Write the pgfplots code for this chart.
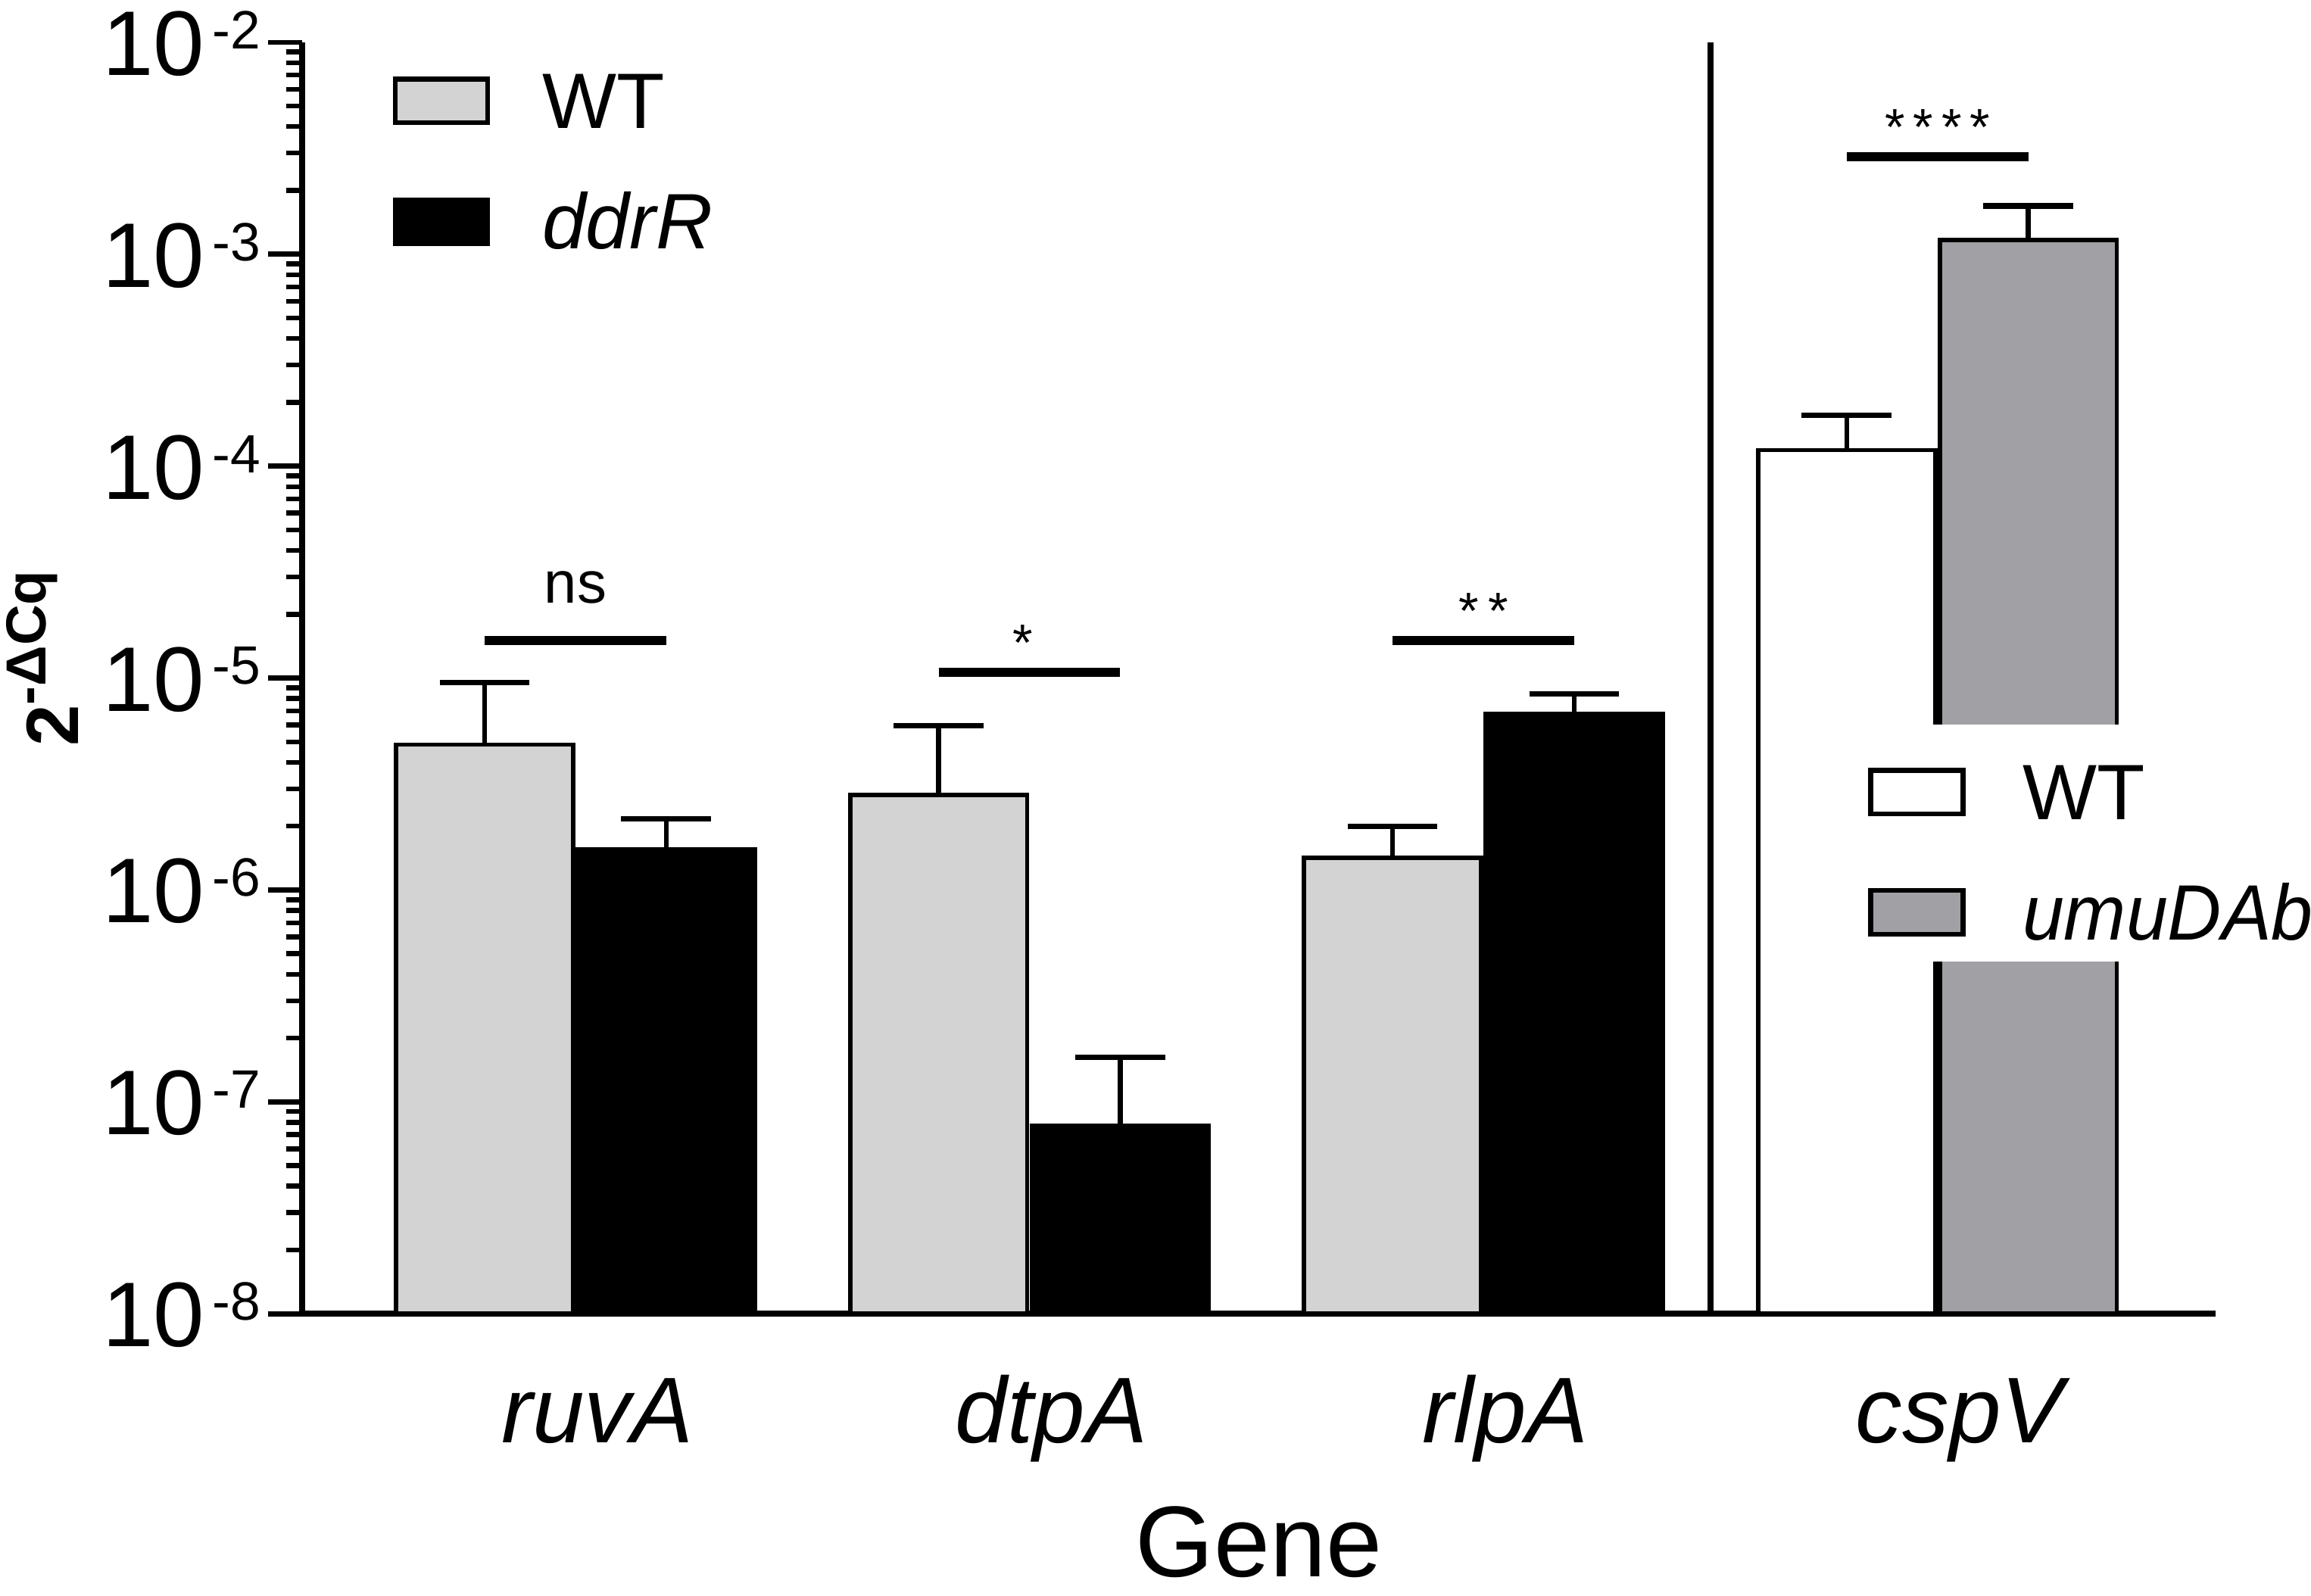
\documentclass[border=0pt]{standalone}
\usepackage{fontspec}
\setmainfont{Liberation Sans}
\usepackage{pgfplots}
\usepackage{pgfplotstable}
\pgfplotsset{compat=1.18}

\definecolor{wtgrey}{HTML}{D3D3D3}
\definecolor{umugrey}{HTML}{A1A1A5}

\newcommand{\tl}[1]{\fontsize{18.7pt}{18.7pt}\selectfont 10\kern1.7pt\raisebox{5.4pt}{\fontsize{11pt}{11pt}\selectfont -#1}}

\pgfplotsset{
  mylegbox/.style={legend image code/.code={\draw[##1, draw=black, line width=1pt] (0.5pt,1.1pt) rectangle (19.3pt,10pt);}},
  mylegboxtop/.style={legend image code/.code={\draw[##1, draw=black, line width=1pt] (0.5pt,1.1pt) rectangle (19.3pt,10pt); \path (0pt,16pt);}},
}

% x = bar position, y = mean 2^-dCq, t = top of error bar
\pgfplotstableread{
x y t
0.8 4.85e-6 9.5e-6
1.8 2.80e-6 5.96e-6
2.8 1.42e-6 2.0e-6
}\wtdata
\pgfplotstableread{
x y t
1.2 1.55e-6 2.16e-6
2.2 7.7e-8 1.62e-7
3.2 6.8e-6 8.4e-6
}\ddrdata
\pgfplotstableread{
x y t
3.8 1.19e-4 1.74e-4
}\wtcsp
\pgfplotstableread{
x y t
4.2 1.17e-3 1.69e-3
}\umucsp

\begin{document}
\begin{tikzpicture}
\begin{axis}[name=ax,
  scale only axis, width=389.6pt, height=258.9pt,
  xmin=0.398, xmax=4.613, ymin=1e-8, ymax=1e-2,
  ymode=log, log origin=infty,
  axis x line*=bottom, axis y line*=left,
  axis line style={-, line width=1.2pt, black},
  ytick pos=left,
  ytick={1e-8,1e-7,1e-6,1e-5,1e-4,1e-3,1e-2},
  yticklabels={\tl{8},\tl{7},\tl{6},\tl{5},\tl{4},\tl{3},\tl{2}},
  minor ytick={2e-8,3e-8,4e-8,5e-8,6e-8,7e-8,8e-8,9e-8,
               2e-7,3e-7,4e-7,5e-7,6e-7,7e-7,8e-7,9e-7,
               2e-6,3e-6,4e-6,5e-6,6e-6,7e-6,8e-6,9e-6,
               2e-5,3e-5,4e-5,5e-5,6e-5,7e-5,8e-5,9e-5,
               2e-4,3e-4,4e-4,5e-4,6e-4,7e-4,8e-4,9e-4,
               2e-3,3e-3,4e-3,5e-3,6e-3,7e-3,8e-3,9e-3},
  tick align=outside,
  major tick length=6.9pt, minor tick length=3.3pt,
  tick style={line width=1pt, black},
  xtick={1,2,3,4},
  xticklabels={ruvA,dtpA,rlpA,cspV},
  xtick style={draw=none},
  yticklabel style={anchor=base east, yshift=-6.7pt, inner sep=0pt, xshift=-1.3pt},
  xticklabel style={font=\fontsize{19pt}{19pt}\selectfont\itshape, anchor=base, inner sep=0pt, yshift=-19.4pt, xshift=4.5pt},
  xlabel={Gene},
  xlabel style={font=\fontsize{20.5pt}{20.5pt}\selectfont, at={(axis description cs:0.5,0)}, anchor=base, inner sep=0pt, yshift=-53.5pt},
  ylabel={\fontsize{15.1pt}{15.1pt}\selectfont\bfseries 2\raisebox{6.7pt}{\fontsize{11.5pt}{11.5pt}\selectfont -ΔCq}},
  ylabel style={at={(axis description cs:-0.1169,0.5154)}, anchor=base, inner sep=0pt},
  legend cell align=left,
  legend style={draw=none, fill=none, inner sep=0pt,
    at={(axis description cs:0.04696,0.9757)}, anchor=north west,
    font=\fontsize{16pt}{16pt}\selectfont,
    row sep={24.6pt,between origins}, column sep=10.6pt,
    nodes={inner sep=0pt, anchor=base west}},
]
\addplot[ybar, bar width=0.39, draw=black, line width=0.9pt, fill=wtgrey, bar shift=0pt, mylegbox]
  table[x=x, y=y] {\wtdata};
\addlegendentry{WT}
\addplot[ybar, bar width=0.39, draw=black, line width=0.9pt, fill=black, bar shift=0pt, mylegbox]
  table[x=x, y=y] {\ddrdata};
\addlegendentry{\textit{ddrR}}

% error bars (upper only): stems and caps
\addplot[black, line width=1pt, forget plot] coordinates {(0.8,4.85e-6) (0.8,9.5e-6)};
\addplot[black, line width=1.1pt, forget plot] coordinates {(0.701,9.5e-6) (0.899,9.5e-6)};
\addplot[black, line width=1pt, forget plot] coordinates {(1.8,2.80e-6) (1.8,5.96e-6)};
\addplot[black, line width=1.1pt, forget plot] coordinates {(1.701,5.96e-6) (1.899,5.96e-6)};
\addplot[black, line width=1pt, forget plot] coordinates {(2.8,1.42e-6) (2.8,2.0e-6)};
\addplot[black, line width=1.1pt, forget plot] coordinates {(2.701,2.0e-6) (2.899,2.0e-6)};
\addplot[black, line width=1pt, forget plot] coordinates {(1.2,1.55e-6) (1.2,2.16e-6)};
\addplot[black, line width=1.1pt, forget plot] coordinates {(1.101,2.16e-6) (1.299,2.16e-6)};
\addplot[black, line width=1pt, forget plot] coordinates {(2.2,7.7e-8) (2.2,1.62e-7)};
\addplot[black, line width=1.1pt, forget plot] coordinates {(2.101,1.62e-7) (2.299,1.62e-7)};
\addplot[black, line width=1pt, forget plot] coordinates {(3.2,6.8e-6) (3.2,8.4e-6)};
\addplot[black, line width=1.1pt, forget plot] coordinates {(3.101,8.4e-6) (3.299,8.4e-6)};

% significance bars
\addplot[black, line width=1.9pt, forget plot] coordinates {(0.8,1.5e-5) (1.2,1.5e-5)};
\addplot[black, line width=1.9pt, forget plot] coordinates {(1.8,1.065e-5) (2.2,1.065e-5)};
\addplot[black, line width=1.9pt, forget plot] coordinates {(2.8,1.5e-5) (3.2,1.5e-5)};
% separator
\addplot[black, line width=1.2pt, forget plot] coordinates {(3.5,1e-8) (3.5,1e-2)};

\node[font=\fontsize{12pt}{12pt}\selectfont, anchor=base, yshift=7.7pt, inner sep=0pt] at (axis cs:1,1.5e-5) {ns};
\node[font=\fontsize{10.5pt}{10.5pt}\selectfont, anchor=base, yshift=2.4pt, inner sep=0pt] at (axis cs:1.985,1.065e-5) {*};
\node[font=\fontsize{10.5pt}{10.5pt}\selectfont, anchor=base, yshift=2.4pt, inner sep=0pt] at (axis cs:3,1.5e-5) {*\kern1.9pt*};
\end{axis}

\begin{axis}[at={(ax.south west)}, anchor=south west, hide axis,
  scale only axis, width=389.6pt, height=258.9pt,
  xmin=0.398, xmax=4.613, ymin=1e-8, ymax=1e-2,
  ymode=log, log origin=infty,
  legend cell align=left,
  legend style={draw=none, fill=white, inner xsep=12pt, inner ysep=2.9pt,
    at={(axis description cs:0.786,0.4644)}, anchor=north west,
    font=\fontsize{16pt}{16pt}\selectfont,
    row sep={24.5pt,between origins}, column sep=11.6pt,
    nodes={inner sep=0pt, anchor=base west}},
]
\addplot[ybar, bar width=0.39, draw=black, line width=0.9pt, fill=white, bar shift=0pt, mylegboxtop]
  table[x=x, y=y] {\wtcsp};
\addlegendentry{WT}
\addplot[ybar, bar width=0.39, draw=black, line width=0.9pt, fill=umugrey, bar shift=0pt, mylegbox]
  table[x=x, y=y] {\umucsp};
\addlegendentry{\scalebox{0.95}[1]{\textit{umuDAb}}}
\addplot[black, line width=1pt, forget plot] coordinates {(3.8,1.19e-4) (3.8,1.74e-4)};
\addplot[black, line width=1.1pt, forget plot] coordinates {(3.701,1.74e-4) (3.899,1.74e-4)};
\addplot[black, line width=1pt, forget plot] coordinates {(4.2,1.17e-3) (4.2,1.69e-3)};
\addplot[black, line width=1.1pt, forget plot] coordinates {(4.101,1.69e-3) (4.299,1.69e-3)};
\addplot[black, line width=1.9pt, forget plot] coordinates {(3.8,2.88e-3) (4.2,2.88e-3)};
\node[font=\fontsize{10.5pt}{10.5pt}\selectfont, anchor=base, yshift=2.4pt, inner sep=0pt] at (axis cs:4,2.88e-3) {*\kern1.7pt*\kern1.7pt*\kern1.7pt*};
\end{axis}

\pgfresetboundingbox
\path[use as bounding box] ([shift={(-61.5pt,-57.4pt)}]ax.south west) rectangle ([shift={(409.0pt,267.5pt)}]ax.south west);
\end{tikzpicture}
\end{document}
